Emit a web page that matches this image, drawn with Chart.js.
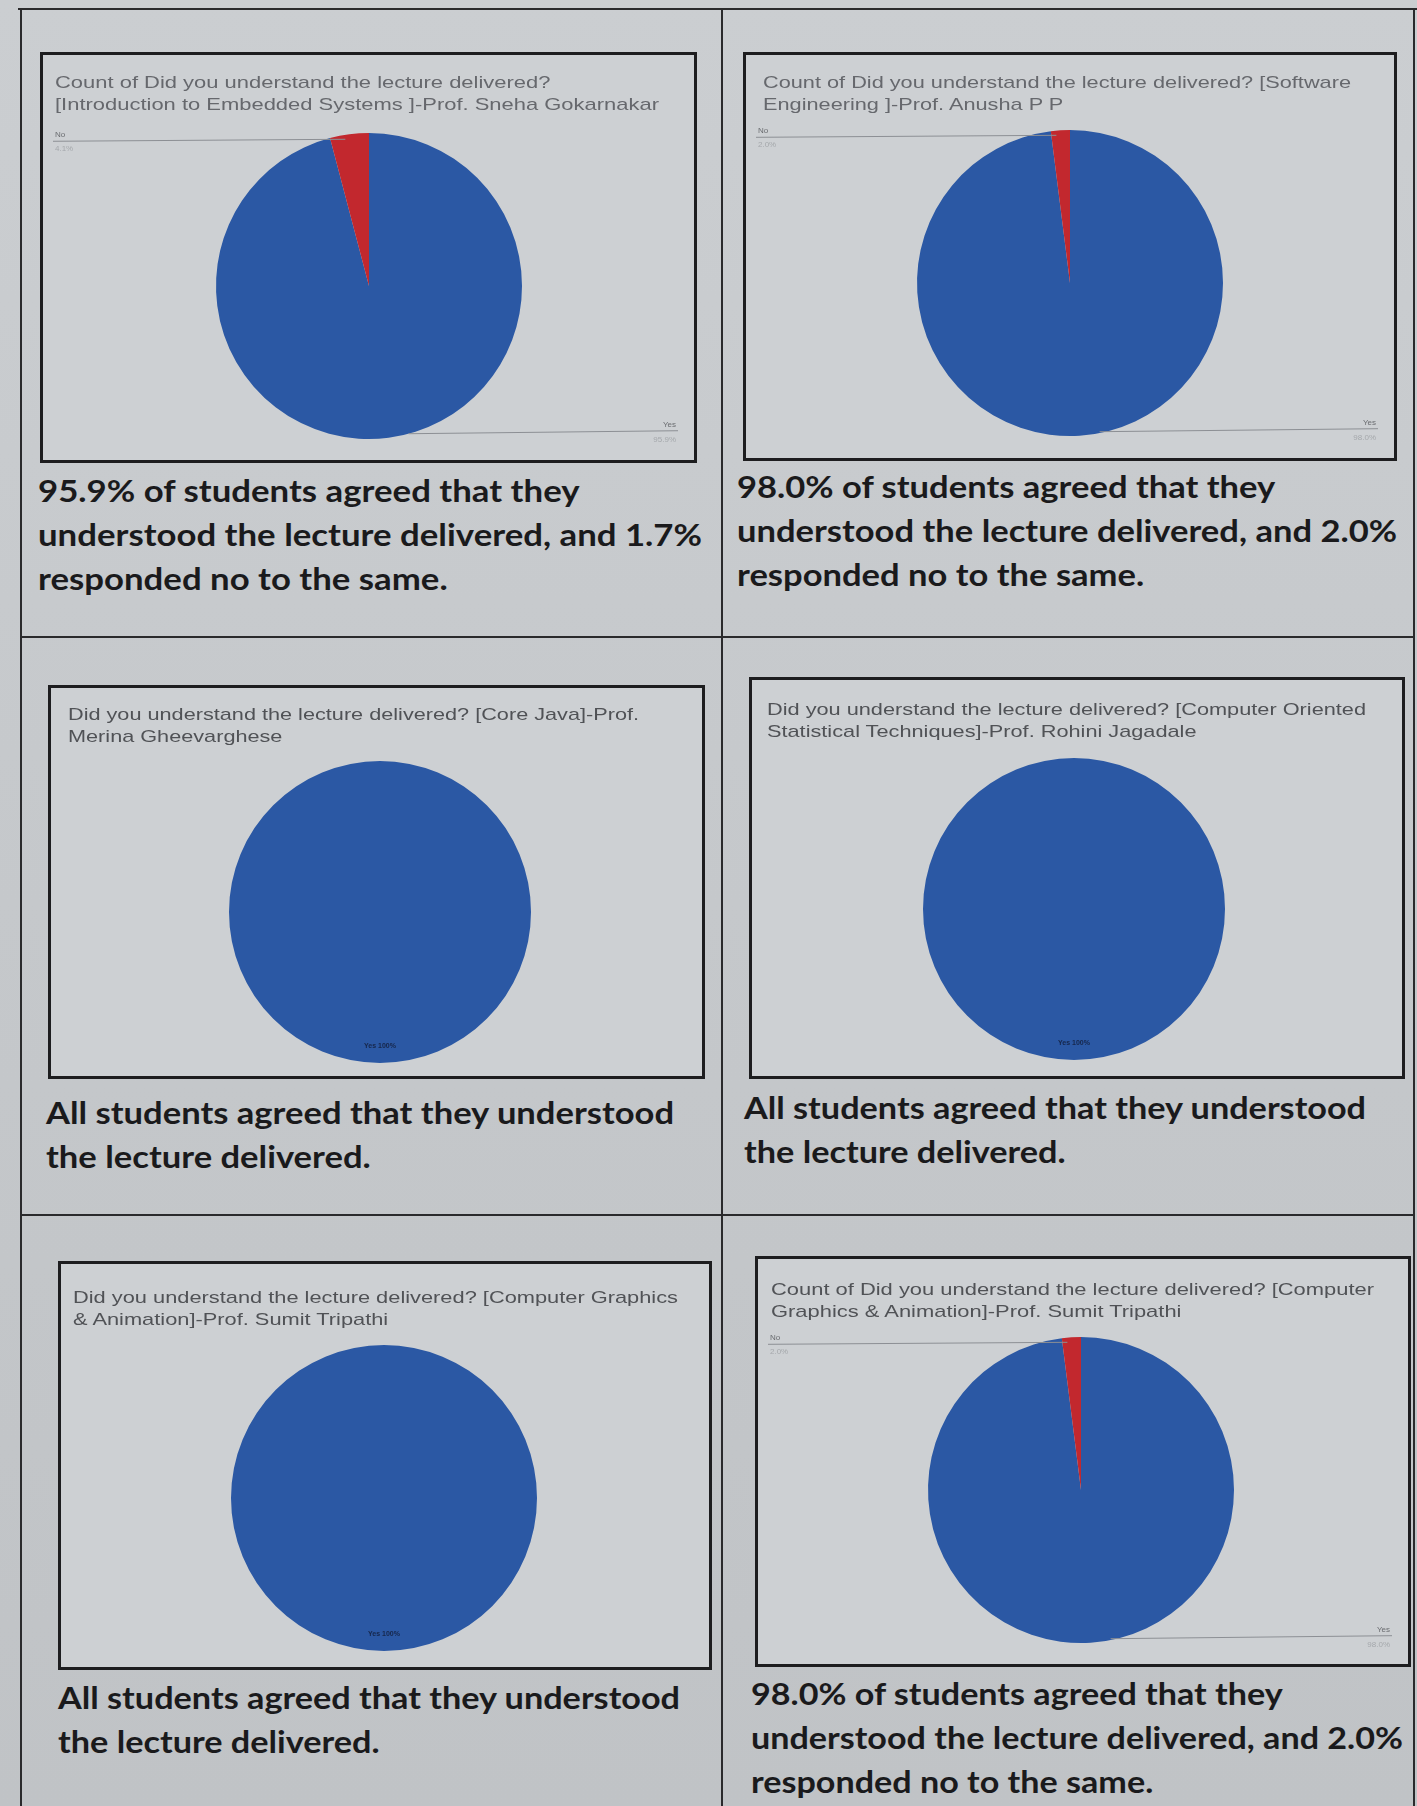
<!DOCTYPE html>
<html>
<head>
<meta charset="utf-8">
<script src="https://cdn.jsdelivr.net/npm/chart.js@4/dist/chart.umd.min.js"></script>
<style>
  html, body { margin: 0; padding: 0; }
  body { width: 1417px; height: 1806px; position: relative; overflow: hidden;
         background: linear-gradient(180deg, #cbced1 0%, #c5c8cb 50%, #c0c3c6 100%); }
  .rule { position: absolute; background: #2a2a2c; }
  .box { position: absolute; box-sizing: border-box; border: 3px solid #1d1d1f; background: #cdd0d3; }
  .box canvas { position: absolute; left: 0; top: 0; }
  .ttl { position: absolute; font-family: "Liberation Sans", Arial, sans-serif; font-size: 17px;
         line-height: 22px; color: #505256; white-space: nowrap; }
  .ttl.light { color: #66686d; }
  .cap { position: absolute; font-family: Lato, "Open Sans", sans-serif; font-weight: 700; font-size: 31px;
         line-height: 44px; color: #1a1a1c; white-space: nowrap; }
  .ln { display: block; transform-origin: 0 50%; }
  .ln span { display: inline-block; }
</style>
</head>
<body>
<script>
// ---------- data ----------
const categories = ['Yes', 'No'];
const yesValues = [95.9, 98.0, 100, 100, 100, 98.0];
const noValues  = [4.1, 2.0, 0, 0, 0, 2.0];
const chartTitles = [
  ['Count of Did you understand the lecture delivered?', '[Introduction to Embedded Systems ]-Prof. Sneha Gokarnakar'],
  ['Count of Did you understand the lecture delivered? [Software', 'Engineering ]-Prof. Anusha P P'],
  ['Did you understand the lecture delivered? [Core Java]-Prof.', 'Merina Gheevarghese'],
  ['Did you understand the lecture delivered? [Computer Oriented', 'Statistical Techniques]-Prof. Rohini Jagadale'],
  ['Did you understand the lecture delivered? [Computer Graphics', '& Animation]-Prof. Sumit Tripathi'],
  ['Count of Did you understand the lecture delivered? [Computer', 'Graphics & Animation]-Prof. Sumit Tripathi']
];
const captions = [
  ['95.9% of students agreed that they', 'understood the lecture delivered, and 1.7%', 'responded no to the same.'],
  ['98.0% of students agreed that they', 'understood the lecture delivered, and 2.0%', 'responded no to the same.'],
  ['All students agreed that they understood', 'the lecture delivered.'],
  ['All students agreed that they understood', 'the lecture delivered.'],
  ['All students agreed that they understood', 'the lecture delivered.'],
  ['98.0% of students agreed that they', 'understood the lecture delivered, and 2.0%', 'responded no to the same.']
];

// ---------- layout (page pixels) ----------
const rules = [
  {x: 18, y: 8, w: 1399, h: 2}, {x: 20, y: 8, w: 2, h: 1798},
  {x: 721, y: 8, w: 2, h: 1798}, {x: 1413, y: 8, w: 2, h: 1798},
  {x: 20, y: 636, w: 1395, h: 2}, {x: 20, y: 1214, w: 1395, h: 2}
];
const boxes = [
  {x: 40,  y: 52,   w: 657, h: 411, cx: 369,  cy: 286,  r: 153},
  {x: 743, y: 52,   w: 654, h: 409, cx: 1070, cy: 283,  r: 153},
  {x: 48,  y: 685,  w: 657, h: 394, cx: 380,  cy: 912,  r: 151},
  {x: 749, y: 677,  w: 656, h: 402, cx: 1074, cy: 909,  r: 151},
  {x: 58,  y: 1261, w: 654, h: 409, cx: 384,  cy: 1498, r: 153},
  {x: 755, y: 1256, w: 656, h: 411, cx: 1081, cy: 1490, r: 153}
];
const titlePos = [
  {x: 55, y: 72, fitLine: 1, fitW: 604, light: true}, {x: 763, y: 72, fitLine: 0, fitW: 588, light: true},
  {x: 68, y: 704, fitLine: 0, fitW: 571}, {x: 767, y: 699, fitLine: 0, fitW: 599},
  {x: 73, y: 1287, fitLine: 0, fitW: 605}, {x: 771, y: 1279, fitLine: 0, fitW: 603}
];
const capPos = [
  {x: 38, y: 468, fitLine: 1, fitW: 664}, {x: 737, y: 464, fitLine: 1, fitW: 660},
  {x: 46, y: 1090, fitLine: 0, fitW: 628}, {x: 744, y: 1085, fitLine: 0, fitW: 622},
  {x: 58, y: 1675, fitLine: 0, fitW: 622}, {x: 751, y: 1671, fitLine: 1, fitW: 652}
];

rules.forEach(r => {
  const d = document.createElement('div'); d.className = 'rule';
  Object.assign(d.style, {left: r.x + 'px', top: r.y + 'px', width: r.w + 'px', height: r.h + 'px'});
  document.body.appendChild(d);
});

function textBlock(cls, lines, pos) {
  const d = document.createElement('div'); d.className = cls + (pos.light ? ' light' : '');
  d.style.left = pos.x + 'px'; d.style.top = pos.y + 'px';
  const spans = lines.map(t => {
    const l = document.createElement('div'); l.className = 'ln';
    const s = document.createElement('span'); s.textContent = t; l.appendChild(s); d.appendChild(l);
    return l;
  });
  document.body.appendChild(d);
  const measured = spans[pos.fitLine].firstChild.getBoundingClientRect().width;
  const k = pos.fitW / measured;
  spans.forEach(l => { l.style.transform = 'scaleX(' + k + ')'; });
}

const sliceLabels = {
  id: 'sliceLabels',
  afterDatasetsDraw(chart) {
    const ctx = chart.ctx;
    const meta = chart.getDatasetMeta(0);
    const vals = chart.data.datasets[0].data;
    const names = chart.data.labels;
    const nonzero = vals.filter(v => v > 0).length;
    const W = chart.width;
    ctx.save();
    meta.data.forEach((arc, i) => {
      if (!(vals[i] > 0)) return;
      const p = arc.getProps(['x', 'y', 'startAngle', 'endAngle', 'outerRadius'], true);
      const pct = vals[i] === 100 ? '100%' : vals[i].toFixed(1) + '%';
      if (nonzero === 1) {
        ctx.fillStyle = '#16264a';
        ctx.font = 'bold 7px "Liberation Sans", Arial';
        ctx.textAlign = 'center';
        ctx.fillText(names[i] + ' ' + pct, p.x, p.y + p.outerRadius * 0.9);
        return;
      }
      const mid = (p.startAngle + p.endAngle) / 2;
      const ex = p.x + Math.cos(mid) * p.outerRadius;
      const ey = p.y + Math.sin(mid) * p.outerRadius;
      ctx.strokeStyle = '#8c8f94'; ctx.lineWidth = 1;
      ctx.font = '8px "Liberation Sans", Arial';
      if (Math.sin(mid) < 0) {
        const ly = ey + 7;
        ctx.beginPath(); ctx.moveTo(10, ly); ctx.lineTo(ex - 4, ly - 2); ctx.stroke();
        ctx.textAlign = 'left';
        ctx.fillStyle = '#6a6c70'; ctx.fillText(names[i], 12, ly - 4);
        ctx.fillStyle = '#a5a8ac'; ctx.fillText(pct, 12, ly + 10);
      } else {
        const ly = ey - 6;
        ctx.beginPath(); ctx.moveTo(ex + 20, ly + 2); ctx.lineTo(W - 16, ly - 1); ctx.stroke();
        ctx.textAlign = 'right';
        ctx.fillStyle = '#6a6c70'; ctx.fillText(names[i], W - 18, ly - 5);
        ctx.fillStyle = '#a5a8ac'; ctx.fillText(pct, W - 18, ly + 10);
      }
    });
    ctx.restore();
  }
};

boxes.forEach((b, i) => {
  const box = document.createElement('div'); box.className = 'box';
  Object.assign(box.style, {left: b.x + 'px', top: b.y + 'px', width: b.w + 'px', height: b.h + 'px'});
  const W = b.w - 6, H = b.h - 6;
  const cv = document.createElement('canvas'); cv.width = W; cv.height = H;
  cv.style.width = W + 'px'; cv.style.height = H + 'px';
  box.appendChild(cv);
  document.body.appendChild(box);
  const cx = b.cx - b.x - 3, cy = b.cy - b.y - 3;
  new Chart(cv, {
    type: 'pie',
    data: {
      labels: categories,
      datasets: [{
        data: [yesValues[i], noValues[i]],
        backgroundColor: ['#2b58a4', '#c2282e'],
        borderWidth: 0
      }]
    },
    options: {
      responsive: false,
      animation: false,
      layout: { padding: { left: cx - b.r, top: cy - b.r, right: W - cx - b.r, bottom: H - cy - b.r } },
      plugins: { legend: { display: false }, tooltip: { enabled: false }, title: { display: false } }
    },
    plugins: [sliceLabels]
  });
});

chartTitles.forEach((t, i) => textBlock('ttl', t, titlePos[i]));
captions.forEach((c, i) => textBlock('cap', c, capPos[i]));
</script>
</body>
</html>
